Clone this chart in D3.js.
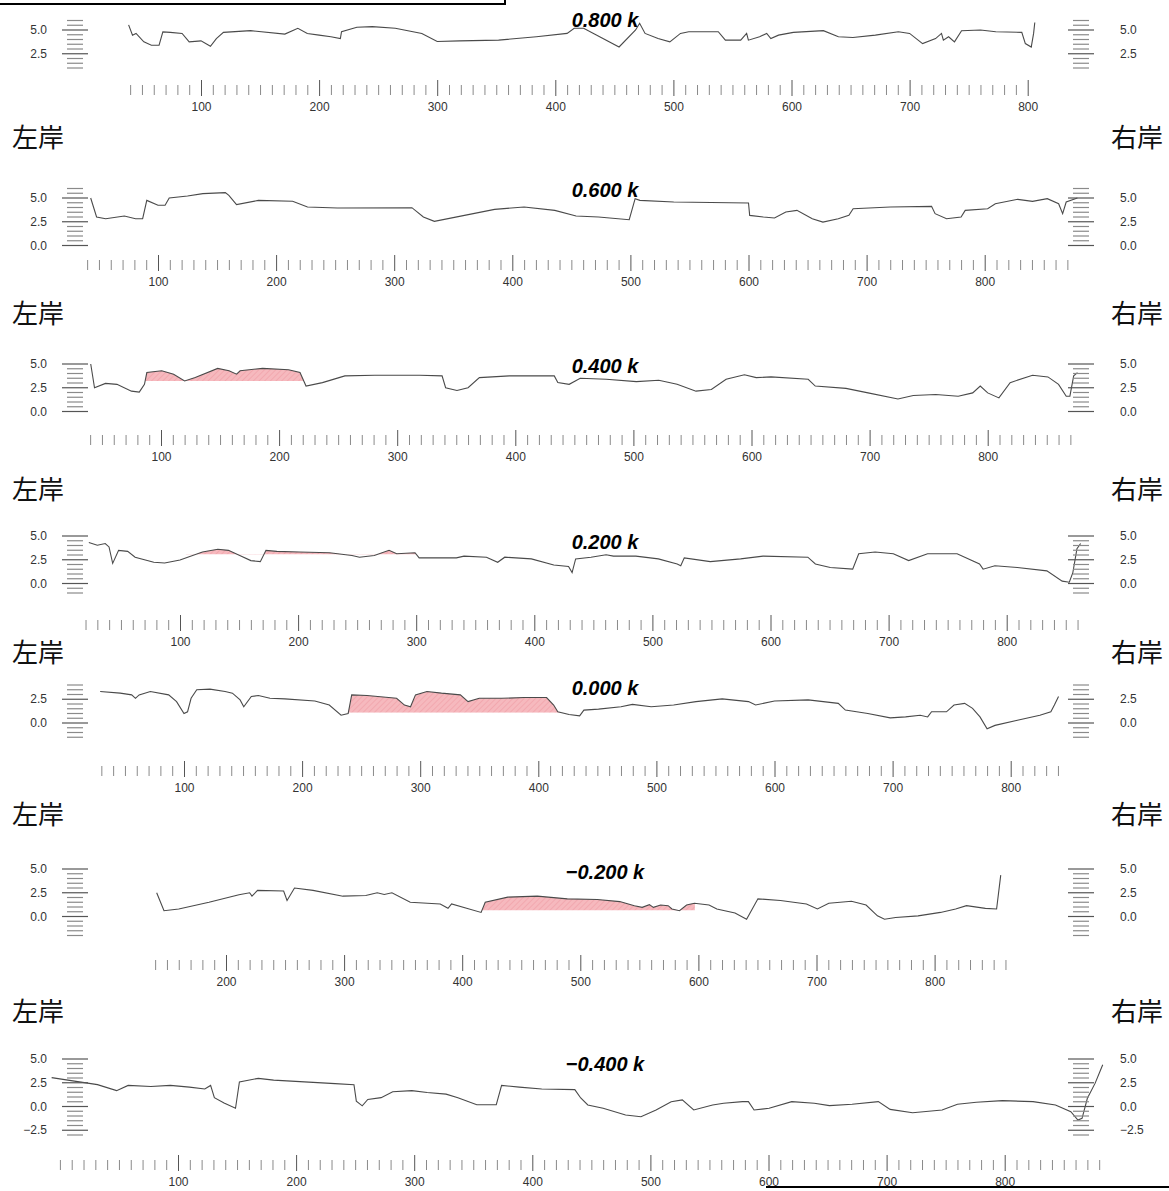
<!DOCTYPE html>
<html>
<head>
<meta charset="utf-8">
<script src="https://cdn.jsdelivr.net/npm/d3@7"></script>
<style>
    body { margin: 0; background: #fff; }
    svg { display: block; }
    .tick-label { font-family: "Liberation Sans", Arial, sans-serif; font-size: 12px; fill: #333; }
    .sec-title { font-family: "Liberation Sans", Arial, sans-serif; font-size: 20px; font-weight: bold; font-style: italic; fill: #000; }
    .bank { font-family: "Noto Sans CJK JP", sans-serif; font-size: 26px; fill: #111; }
</style>
</head>
<body>
<div id="chart"></div>
<script>

/*
 * Data: cross sections, [distance (m), elevation (m)]
 */
var titles = ["0.800 k", "0.600 k", "0.400 k", "0.200 k", "0.000 k", "\u22120.200 k", "\u22120.400 k"];

var sec0800 = [[38.7,5.54],[42,4.46],[45,4.64],[51.6,3.75],[58,3.4],[64.5,3.4],[67.7,4.8],[74,4.75],[84,4.64],[90,3.75],
    [100,3.86],[108,3.29],[113,4.1],[119,4.75],[142,4.93],[171,4.57],[182,5.18],[190,4.64],[200,4.46],[210,4.29],[218,4.1],
    [219,4.82],[232,5.29],[245,5.36],[264.5,5.18],[287,4.64],[300,3.79],[319,3.86],[352,3.93],[384,4.29],[410,4.64],[416,5.18],
    [424,5.18],[454,3.21],[468,5.0],[471.4,5.71],[476,4.64],[487,4.1],[497,3.75],[506,4.64],[513,4.82],[538,4.82],[544,3.93],
    [557,3.93],[562,4.64],[563.5,3.93],[573,4.29],[579,4.64],[582.5,4.1],[589,4.46],[601.6,4.75],[627,4.93],[639.7,4.29],
    [652,4.21],[671,4.46],[690.5,4.82],[700,4.64],[711,3.57],[722,4.1],[727,4.64],[728.6,3.93],[733,4.29],[738,3.75],[744,4.93],
    [760,5.0],[773,4.82],[795,4.75],[798,3.57],[803,3.21],[805,4.64],[806,5.79]];

var sec0600 = [[43,5.0],[48,3.0],[55.7,2.82],[71.5,3.1],[81,2.82],[87,2.82],[90.5,4.75],[100,4.23],[106,4.23],[109.5,5.0],
    [125,5.21],[138,5.46],[157,5.56],[160,5.28],[166.5,4.3],[185,4.75],[214,4.65],[226.6,4.05],[252,3.94],[315,3.98],[324.7,3.0],
    [334,2.54],[359.5,3.17],[385,3.8],[410,4.05],[436,3.7],[454,3.1],[473,3.0],[499,2.71],[504,4.93],[508,4.75],[536.7,4.58],
    [600,4.47],[601,3.17],[612.6,3.0],[622,2.89],[631.6,3.52],[641,3.7],[654,2.82],[663,2.46],[676,2.82],[685,3.17],[688.6,3.87],
    [720,4.05],[755,4.12],[758,3.35],[767.7,2.82],[780,3.0],[783.5,3.7],[802.5,3.87],[809,4.4],[828,4.86],[840.5,4.65],
    [853,4.93],[862.6,4.4],[866,3.35],[869,4.58],[878.5,5.0]];

var sec0400 = [[40.5,5.0],[43.7,2.5],[53,2.96],[62.7,2.86],[75,2.14],[81.6,2.04],[86,2.86],[88,4.1],[100.6,4.29],[110.7,3.93],
    [120,3.21],[129,3.57],[148,4.54],[157.6,4.29],[164,3.93],[167,4.29],[186,4.54],[208,4.39],[217.7,4.1],[222.8,2.68],
    [236.7,3.04],[255.7,3.75],[281,3.82],[306,3.82],[319,3.82],[338,3.75],[341,2.5],[350.6,2.21],[360,2.5],[369.6,3.57],
    [395,3.75],[433,3.75],[436,3.04],[445.6,2.86],[455,3.5],[477,3.39],[502.5,3.14],[521.5,3.29],[537,2.86],[553,2.14],
    [566,2.32],[578.5,3.39],[594,3.86],[604,3.57],[616.5,3.64],[648,3.39],[654,2.68],[680,2.43],[698.7,1.96],[724,1.32],
    [737,1.68],[756,1.79],[775,1.61],[787.3,1.96],[793.7,2.68],[800,1.96],[809.5,1.43],[819,3.04],[838,3.82],[851,3.64],
    [860,2.86],[866.5,1.61],[869.6,1.61],[872.8,3.75],[876,4.1]];

var sec0200 = [[22.8,4.32],[30,4.03],[36.7,4.21],[39.9,3.85],[43,2.12],[48,3.49],[55.7,3.38],[62,2.77],[77.8,2.23],[87,2.16],
    [100,2.48],[119,3.31],[132,3.6],[141,3.49],[150.6,2.95],[160,2.41],[168,2.3],[172.8,3.49],[182,3.38],[201,3.31],
    [226.6,3.24],[245.6,2.95],[252,2.77],[264.5,2.95],[277,3.49],[283.5,3.13],[299,3.24],[302.5,2.7],[334,2.7],[340.5,2.88],
    [359.5,2.77],[369,2.23],[375,2.77],[397.5,2.59],[416.5,1.94],[429,1.8],[432,1.15],[435,2.59],[448,2.77],[460.8,3.02],
    [467,2.88],[486,2.88],[505,2.59],[521,2.05],[524,1.87],[527,2.7],[549,2.3],[574.7,2.59],[593.7,2.88],[631.6,2.77],
    [638,2.05],[650.6,1.69],[669.6,1.51],[674.7,3.13],[688.6,3.31],[704,3.13],[717,2.41],[733,3.13],[758,3.13],[777,2.05],
    [780,1.51],[790,1.87],[809,1.69],[834,1.33],[847,0.25],[853,0.14],[856,1.15],[859.5,3.67],[862.6,4.21]];

var sec0000 = [[29,3.32],[46,3.14],[55.7,2.96],[58.9,2.6],[62,2.96],[71.5,3.32],[87,2.96],[93.7,2.25],[100,1.0],[103,1.18],
    [106,2.6],[110.8,3.5],[122,3.57],[134.8,3.32],[141,3.14],[147.5,2.43],[150.6,1.71],[157,2.79],[163,2.89],[172.8,2.6],
    [185.4,2.54],[210.8,2.32],[223,1.89],[233,0.82],[239,1.0],[242,2.96],[255,2.89],[280,2.6],[286.7,1.89],[291.8,1.71],
    [296,2.96],[305.7,3.32],[318,3.14],[334,2.96],[340.5,2.25],[350,2.6],[369,2.6],[388,2.68],[407,2.68],[413,1.89],
    [416.5,1.18],[426,0.89],[435,0.75],[438.6,1.36],[451,1.46],[470,1.71],[479.7,1.96],[495.6,1.71],[514.6,1.89],[533.5,2.25],
    [555.7,2.54],[578,2.25],[584,1.89],[600,2.32],[628.5,2.43],[654,2.07],[660,1.36],[679,1.0],[698,0.54],[711,0.64],
    [723.4,0.82],[729.7,0.64],[733,1.18],[745.6,1.18],[752,1.89],[761,2.07],[767.7,1.54],[774,0.64],[780,-0.61],[786.7,-0.25],
    [805.7,0.29],[824.7,0.82],[834,1.18],[837,1.89],[840.5,2.79]];

var secM0200 = [[141.3,2.5],[147.5,0.61],[160,0.79],[185.6,1.5],[211,2.29],[220,2.5],[222,2.14],[226.7,2.75],[248.8,2.68],
    [251.7,1.68],[258,3.0],[273.7,2.75],[299,2.14],[318.4,2.21],[328,2.5],[334,2.32],[340.5,2.5],[356,1.5],[381.4,1.32],
    [388,0.86],[391,1.32],[416,0.43],[419.5,1.5],[438.6,2.04],[463.6,2.14],[489,1.86],[514.4,1.79],[533.4,1.57],[545.8,1.14],
    [552.4,0.96],[558.5,1.25],[561.9,0.96],[568,1.21],[574.4,1.14],[577.6,0.79],[584,0.61],[590,1.21],[596.6,1.39],[609,1.21],
    [615.6,0.79],[631,0.36],[640.8,-0.29],[650.4,1.86],[669.5,1.68],[691.5,1.32],[700.8,0.79],[710.4,1.39],[729.6,1.61],
    [742,1.21],[751.6,0.07],[757.6,-0.29],[767,-0.11],[786,0.07],[805,0.43],[817.8,0.79],[827,1.14],[843,0.86],[852.5,0.79],
    [856,4.36]];

var secM0400 = [[-7,3.04],[12.3,2.67],[31.8,2.3],[48,1.67],[57.8,2.22],[77,2.11],[93.5,2.22],[109.7,2.04],[122.7,1.85],
    [127.6,2.22],[130.8,0.93],[139,0.37],[148.7,-0.19],[152,2.59],[168,2.96],[181,2.78],[207,2.59],[233,2.41],[249,2.3],
    [251,0.56],[256,0.07],[260.7,0.74],[272,0.93],[281.8,1.56],[298,1.67],[311,1.48],[327,1.3],[337,0.93],[353,0.19],
    [369.5,0.19],[374,2.22],[389,2.04],[408,1.85],[436,1.78],[441,0.9],[447,0.16],[460,-0.19],[479,-0.9],[492,-1.08],
    [504.8,-0.37],[517.6,0.51],[527,0.69],[536.7,-0.37],[552.7,0.16],[562,0.34],[578,0.51],[583,0.51],[587.8,-0.37],
    [600.5,-0.19],[619.7,0.51],[638.8,0.34],[651.6,0.09],[670.8,0.23],[693,0.51],[703,-0.3],[722,-0.65],[747,-0.37],
    [760,0.23],[776,0.44],[798,0.62],[824,0.51],[843,0.16],[856,-0.55],[862,-1.43],[865.5,-1.25],[870,0.87],[876.6,2.46],
    [883,4.4]];

var sections = [sec0800, sec0600, sec0400, sec0200, sec0000, secM0200, secM0400];

// x tick extent (m) and labelled distances
var tickRanges = [[40, 800], [40, 870], [40, 870], [20, 860], [30, 840], [140, 860], [0, 880]];
var xLabels = [100, 200, 300, 400, 500, 600, 700, 800];

// staff gauge extent (m) and labelled elevations
var gaugeRanges = [[1, 6], [0, 6], [0, 5], [-1, 5], [-1.5, 4], [-2, 5], [-3, 5]];
var gaugeLabels = [[2.5, 5], [0, 2.5, 5], [0, 2.5, 5], [0, 2.5, 5], [0, 2.5], [0, 2.5, 5], [-2.5, 0, 2.5, 5]];

// shaded part: level (m) and distance range (m)
var fillLevels = [null, null, 3.2, 3.05, 1.07, 0.62, null];
var fillRanges = [null, null, [84, 221], [105, 300], [238, 418], [416, 597], null];

var bankLabels = ["左岸", "右岸"];

/*
 * Layout (pixels)
 */
var width = 1169, height = 1191;
var pxPerM = 1.181;      // horizontal
var pxPerElev = 9.5;     // vertical
var layout = [
    {y5: 30,    x100: 201,   axisY: 90,   titleY: 20,   bankY: 138},
    {y5: 198,   x100: 158,   axisY: 265,  titleY: 190,  bankY: 314},
    {y5: 364,   x100: 161,   axisY: 440,  titleY: 366,  bankY: 490},
    {y5: 536,   x100: 180,   axisY: 625,  titleY: 542,  bankY: 653},
    {y5: 675.5, x100: 184,   axisY: 771,  titleY: 688,  bankY: 815},
    {y5: 869,   x100: 107.9, axisY: 965,  titleY: 872,  bankY: 1012},
    {y5: 1059,  x100: 178,   axisY: 1165, titleY: 1064, bankY: null}
];

var svg = d3.select("#chart").append("svg")
    .attr("width", width)
    .attr("height", height);

// hatch pattern for the shaded parts
var defs = svg.append("defs");
var pat = defs.append("pattern")
    .attr("id", "hatch")
    .attr("patternUnits", "userSpaceOnUse")
    .attr("width", 4)
    .attr("height", 4)
    .attr("patternTransform", "rotate(45)");
pat.append("rect").attr("width", 4).attr("height", 4).attr("fill", "#f6b9be");
pat.append("line").attr("x1", 0).attr("y1", 0).attr("x2", 0).attr("y2", 4)
    .attr("stroke", "#ee97a0").attr("stroke-width", 1);

var fmt = d3.format(".1f");

sections.forEach(function (data, i) {
    var L = layout[i];
    var g = svg.append("g").attr("class", "section");

    var x = d3.scaleLinear().domain([100, 800]).range([L.x100, L.x100 + 700 * pxPerM]);
    var y = d3.scaleLinear().domain([0, 5]).range([L.y5 + 5 * pxPerElev, L.y5]);

    // shaded area above the level
    if (fillLevels[i] !== null) {
        var lvl = fillLevels[i], r = fillRanges[i];
        defs.append("clipPath").attr("id", "clip" + i)
            .append("rect")
            .attr("x", x(r[0]))
            .attr("y", 0)
            .attr("width", x(r[1]) - x(r[0]))
            .attr("height", y(lvl));

        var area = d3.area()
            .x(function (d) { return x(d[0]); })
            .y0(y(lvl))
            .y1(function (d) { return y(d[1]); });

        g.append("path")
            .datum(data)
            .attr("clip-path", "url(#clip" + i + ")")
            .attr("fill", "url(#hatch)")
            .attr("d", area);
    }

    // ground line
    var line = d3.line()
        .x(function (d) { return x(d[0]); })
        .y(function (d) { return y(d[1]); });

    g.append("path")
        .datum(data)
        .attr("fill", "none")
        .attr("stroke", "#4a4a4a")
        .attr("stroke-width", 1.1)
        .attr("d", line);

    // x axis: minor ticks every 10 m, major at labels
    var tr = tickRanges[i];
    var all = d3.range(tr[0], tr[1] + 1, 10);
    var major = all.filter(function (v) { return xLabels.indexOf(v) >= 0; });
    var minor = all.filter(function (v) { return xLabels.indexOf(v) < 0; });

    var minorAxis = d3.axisBottom(x).tickValues(minor).tickSize(10).tickFormat("");
    var gm = g.append("g")
        .attr("transform", "translate(0," + (L.axisY - 5) + ")")
        .call(minorAxis);
    gm.select(".domain").remove();
    gm.selectAll(".tick line").attr("stroke", "#8a8a8a");

    var majorAxis = d3.axisBottom(x).tickValues(major).tickSize(16).tickPadding(6)
        .tickFormat(d3.format("d"));
    var gM = g.append("g")
        .attr("transform", "translate(0," + (L.axisY - 10) + ")")
        .call(majorAxis);
    gM.select(".domain").remove();
    gM.selectAll(".tick line").attr("stroke", "#555");
    gM.selectAll(".tick text")
        .attr("class", "tick-label")
        .attr("fill", null)
        .attr("font-family", null)
        .attr("font-size", null);

    // staff gauges, left and right
    var gr = gaugeRanges[i];
    var gv = d3.range(gr[0], gr[1] + 0.01, 0.5);
    [75, 1081].forEach(function (cx, side) {
        g.selectAll(null)
            .data(gv)
            .enter().append("line")
            .attr("x1", function (d) { return cx - (d % 2.5 === 0 ? 13 : 8); })
            .attr("x2", function (d) { return cx + (d % 2.5 === 0 ? 13 : 8); })
            .attr("y1", function (d) { return y(d); })
            .attr("y2", function (d) { return y(d); })
            .attr("stroke", function (d) { return d % 2.5 === 0 ? "#555" : "#8a8a8a"; })
            .attr("stroke-width", 1.2);

        g.selectAll(null)
            .data(gaugeLabels[i])
            .enter().append("text")
            .attr("class", "tick-label")
            .attr("x", side === 0 ? 47 : 1120)
            .attr("y", function (d) { return y(d); })
            .attr("dy", "0.35em")
            .attr("text-anchor", side === 0 ? "end" : "start")
            .text(function (d) { return fmt(d).replace("-", "\u2212"); });
    });

    // title
    g.append("text")
        .attr("class", "sec-title")
        .attr("x", 605)
        .attr("y", L.titleY)
        .attr("dy", "0.35em")
        .attr("text-anchor", "middle")
        .text(titles[i]);

    // bank labels
    if (L.bankY !== null) {
        g.append("text")
            .attr("class", "bank")
            .attr("x", 12)
            .attr("y", L.bankY)
            .attr("dy", "0.35em")
            .text(bankLabels[0]);
        g.append("text")
            .attr("class", "bank")
            .attr("x", 1163)
            .attr("y", L.bankY)
            .attr("dy", "0.35em")
            .attr("text-anchor", "end")
            .text(bankLabels[1]);
    }
});

// frame edges cut by the page
svg.append("path")
    .attr("d", "M0,4H505V0")
    .attr("fill", "none")
    .attr("stroke", "#000")
    .attr("stroke-width", 2);
svg.append("path")
    .attr("d", "M766,1187H1169")
    .attr("fill", "none")
    .attr("stroke", "#000")
    .attr("stroke-width", 2);

</script>
</body>
</html>
